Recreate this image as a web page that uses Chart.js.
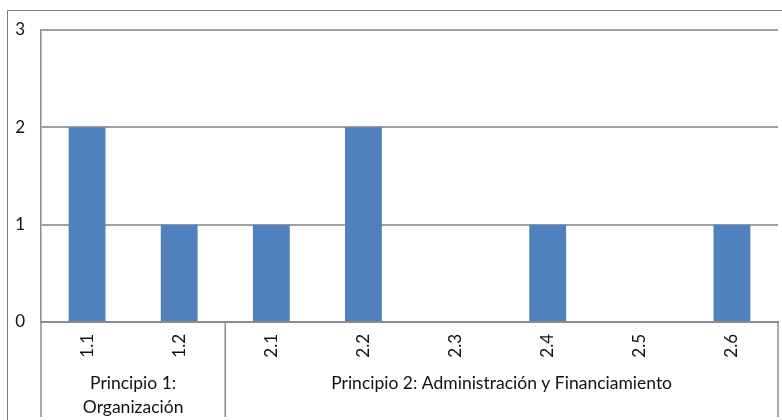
<!DOCTYPE html>
<html>
<head>
<meta charset="utf-8">
<script src="https://cdn.jsdelivr.net/npm/chart.js@4"></script>
<style>
  html, body { margin: 0; padding: 0; background: #fff; }
  #wrap { width: 782px; height: 420px; position: relative; }
</style>
</head>
<body>
<div id="wrap"><canvas id="chart"></canvas></div>
<script>
// criteria codes and how many times each was met
const categories = ['1.1', '1.2', '2.1', '2.2', '2.3', '2.4', '2.5', '2.6'];
const counts = [2, 1, 1, 2, 0, 1, 0, 1];
const yTicks = [0, 1, 2, 3];

// principle groups: label lines and how many categories each covers
const groupLabels = [['Principio 1:', 'Organización'], ['Principio 2: Administración y Financiamiento']];
const groupSizes = [2, 6];

const FONT = 'Lato, "Noto Sans", sans-serif';
const axisGray = '#8c8c8c';

// outer frame plus the group labels and separators under the category axis
const groupAxis = {
  id: 'groupAxis',
  afterDraw(chart) {
    const ctx = chart.ctx;
    const area = chart.chartArea;
    const bottom = 417;
    ctx.save();

    ctx.strokeStyle = '#7a7a7a';
    ctx.lineWidth = 1;
    ctx.beginPath();
    ctx.moveTo(7.5, 420);
    ctx.lineTo(7.5, 10.5);
    ctx.lineTo(782, 10.5);
    ctx.stroke();

    ctx.strokeStyle = axisGray;
    ctx.lineWidth = 1.5;
    const step = (area.right - area.left) / categories.length;
    let start = 0;
    const edges = [area.left];
    groupSizes.forEach(n => { start += n; edges.push(area.left + start * step); });
    edges.forEach(ex => {
      ctx.beginPath();
      ctx.moveTo(ex, area.bottom);
      ctx.lineTo(ex, bottom);
      ctx.stroke();
    });

    ctx.fillStyle = '#111';
    ctx.font = '17.5px ' + FONT;
    ctx.textAlign = 'center';
    ctx.textBaseline = 'middle';
    groupLabels.forEach((lines, i) => {
      const cx = (edges[i] + edges[i + 1]) / 2;
      lines.forEach((t, j) => ctx.fillText(t, cx, 383 + j * 24));
    });
    ctx.restore();
  }
};

new Chart(document.getElementById('chart'), {
  type: 'bar',
  data: {
    labels: categories,
    datasets: [{
      data: counts,
      backgroundColor: '#4f81bd',
      borderWidth: 0,
      categoryPercentage: 1,
      barPercentage: 0.4
    }]
  },
  options: {
    responsive: true,
    maintainAspectRatio: false,
    animation: false,
    layout: { padding: { top: 30, right: 4, left: 0, bottom: 0 } },
    plugins: { legend: { display: false }, tooltip: { enabled: false } },
    scales: {
      x: {
        afterFit: s => { s.height = 98; },
        grid: { display: false, drawTicks: false },
        border: { display: true, color: axisGray, width: 2 },
        ticks: {
          minRotation: 90, maxRotation: 90, padding: 12,
          color: '#111', font: { family: FONT, size: 17 }
        }
      },
      y: {
        min: 0, max: 3,
        afterFit: s => { s.width = 41; },
        afterBuildTicks: s => { s.ticks = yTicks.map(v => ({ value: v })); },
        grid: { color: '#a0a0a0', lineWidth: 2, drawTicks: false },
        border: { display: true, color: axisGray, width: 1.5 },
        ticks: {
          padding: 16, color: '#111',
          font: { family: FONT, size: 17 }
        }
      }
    }
  },
  plugins: [groupAxis]
});
</script>
</body>
</html>
